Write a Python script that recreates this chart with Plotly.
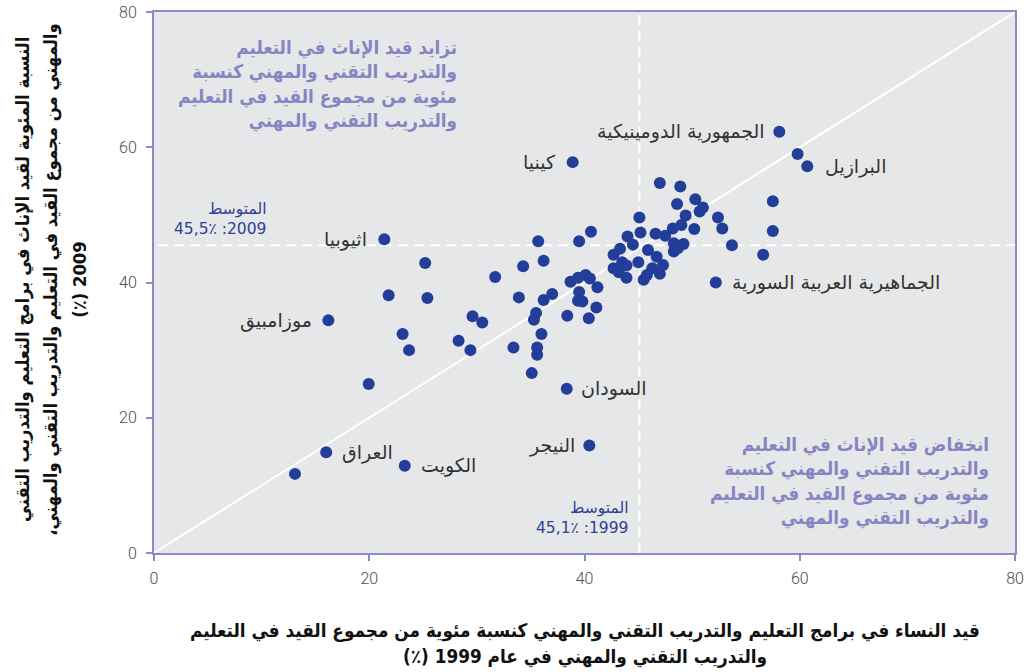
import plotly.graph_objects as go

# ---------------- data ----------------
x1999 = [16.0, 23.3, 16.2, 21.4, 38.9, 38.35, 40.45, 58.1, 60.7, 52.2,
         13.1, 59.8, 19.95, 21.8, 23.1, 23.7, 25.2, 25.4, 28.3, 29.4,
         29.6, 30.5, 31.7, 33.4, 33.9, 34.3, 35.1, 35.3, 35.5, 35.6,
         35.6, 35.7, 36.0, 36.2, 36.2, 37.0, 38.4, 38.7, 39.4, 39.5,
         39.5, 39.4, 39.8, 40.1, 40.5, 40.4, 40.6, 41.1, 41.2, 42.7,
         42.7, 43.2, 43.3, 43.5, 43.9, 43.9, 44.0, 44.5, 45.0, 45.1,
         45.2, 45.5, 45.8, 45.9, 46.3, 46.6, 46.7, 47.0, 47.0, 47.3,
         47.5, 48.2, 48.3, 48.3, 48.7, 48.6, 48.9, 49.0, 49.2, 49.4,
         50.2, 50.3, 50.7, 51.0, 52.4, 52.8, 53.7, 56.6, 57.5, 57.5]
y2009 = [14.9, 12.9, 34.4, 46.4, 57.8, 24.3, 15.9, 62.3, 57.2, 40.0,
         11.7, 59.0, 25.0, 38.1, 32.4, 30.0, 42.9, 37.7, 31.4, 30.0,
         35.0, 34.1, 40.8, 30.4, 37.8, 42.4, 26.6, 34.5, 35.5, 30.4,
         29.3, 46.1, 32.4, 37.4, 43.2, 38.3, 35.1, 40.1, 40.7, 46.1,
         38.6, 37.3, 37.2, 41.1, 40.6, 34.7, 47.5, 36.3, 39.3, 44.1,
         42.1, 41.5, 45.0, 43.0, 42.5, 40.7, 46.8, 45.6, 43.0, 49.6,
         47.4, 40.4, 41.1, 44.8, 42.1, 47.2, 43.8, 41.3, 54.7, 42.6,
         46.9, 48.0, 45.8, 44.6, 45.1, 51.6, 54.2, 48.5, 45.7, 49.9,
         47.9, 52.3, 50.5, 51.1, 49.6, 48.0, 45.5, 44.1, 52.0, 47.6]
names = ["العراق", "الكويت", "موزامبيق", "اثيوبيا", "كينيا", "السودان",
         "النيجر", "الجمهورية الدومينيكية", "البرازيل",
         "الجماهيرية العربية السورية"]

mean_1999 = 45.1
mean_2009 = 45.5
axis_range = [0, 80]
tick_vals = [0, 20, 40, 60, 80]

RLE, PDF = "\u202b", "\u202c"
def rtl(s):
    return RLE + s + PDF

mean_label_1999 = ["المتوسط", "1999: 45,1٪"]
mean_label_2009 = ["المتوسط", "2009: 45,5٪"]
quad_up = ["تزايد قيد الإناث في التعليم", "والتدريب التقني والمهني كنسبة",
           "مئوية من مجموع القيد في التعليم", "والتدريب التقني والمهني"]
quad_down = ["انخفاض قيد الإناث في التعليم", "والتدريب التقني والمهني كنسبة",
             "مئوية من مجموع القيد في التعليم", "والتدريب التقني والمهني"]
x_title = ["قيد النساء في برامج التعليم والتدريب التقني والمهني كنسبة مئوية من مجموع القيد في التعليم",
           "والتدريب التقني والمهني في عام 1999 (٪)"]
y_title = ["النسبة المئوية لقيد الإناث في برامج التعليم والتدريب التقني",
           "والمهني من مجموع القيد في التعليم والتدريب التقني والمهني،",
           "2009 (٪)"]

# ---------------- styles ----------------
BLUE = "#233e98"
PURPLE = "#8784c4"
AXIS = "#8b8bc8"
AR_FONT = "DejaVu Sans"
AR_COND = "DejaVu Sans Condensed"

# label placement (side, xshift)
label_pos = {
    "العراق": ("left", 14), "الكويت": ("left", 14), "موزامبيق": ("right", -14),
    "اثيوبيا": ("right", -15), "كينيا": ("right", -15), "السودان": ("left", 12),
    "النيجر": ("right", -12), "الجمهورية الدومينيكية": ("right", -12),
    "البرازيل": ("left", 16), "الجماهيرية العربية السورية": ("left", 14),
}

fig = go.Figure()
fig.add_trace(go.Scatter(
    x=x1999, y=y2009, mode="markers",
    marker=dict(size=12, color=BLUE, line=dict(width=0)),
    hoverinfo="skip", showlegend=False,
))

shapes = [
    dict(type="line", xref="x", yref="y", x0=axis_range[0], y0=axis_range[0],
         x1=axis_range[1], y1=axis_range[1], line=dict(color="white", width=2), layer="below"),
    dict(type="line", xref="x", yref="y", x0=mean_1999, x1=mean_1999,
         y0=axis_range[0], y1=axis_range[1],
         line=dict(color="white", width=2, dash="10px,6px"), layer="below"),
    dict(type="line", xref="x", yref="y", x0=axis_range[0] + 0.4, x1=axis_range[1],
         y0=mean_2009, y1=mean_2009,
         line=dict(color="white", width=2, dash="10px,6px"), layer="below"),
]

ann = []
for i, nm in enumerate(names):
    side, xs = label_pos[nm]
    ann.append(dict(x=x1999[i], y=y2009[i], xref="x", yref="y", text=rtl(nm),
                    showarrow=False, xanchor=side, yanchor="middle", xshift=xs,
                    font=dict(family=AR_FONT, size=19, color="#333333")))

# mean labels
ann.append(dict(x=10.6, y=mean_2009, xref="x", yref="y",
                text="<br>".join(rtl(s) for s in mean_label_2009),
                showarrow=False, xanchor="right", yanchor="bottom", yshift=5, align="right",
                font=dict(family=AR_FONT, size=15.5, color="#2d4196")))
ann.append(dict(x=mean_1999, y=axis_range[0], xref="x", yref="y",
                text="<br>".join(rtl(s) for s in mean_label_1999),
                showarrow=False, xanchor="right", yanchor="bottom", xshift=-9, yshift=14, align="right",
                font=dict(family=AR_FONT, size=15.5, color="#2d4196")))

# quadrant texts
ann.append(dict(x=28.3, y=76.6, xref="x", yref="y",
                text="<br>".join(rtl(s) for s in quad_up),
                showarrow=False, xanchor="right", yanchor="top", align="right",
                font=dict(family=AR_COND, size=18.7, color=PURPLE, weight="bold")))
ann.append(dict(x=77.8, y=17.9, xref="x", yref="y",
                text="<br>".join(rtl(s) for s in quad_down),
                showarrow=False, xanchor="right", yanchor="top", align="right",
                font=dict(family=AR_COND, size=18.7, color=PURPLE, weight="bold")))

# axis titles (one annotation per line)
for s, yp in zip(x_title, [-0.144, -0.192]):
    ann.append(dict(x=0.5, y=yp, xref="paper", yref="paper", text=rtl(s),
                    showarrow=False, xanchor="center", yanchor="middle",
                    font=dict(family=AR_COND, size=18.8, color="#111111", weight="bold")))
for s, xp in zip(y_title, [-0.152, -0.1196, -0.0859]):
    ann.append(dict(x=xp, y=0.505, xref="paper", yref="paper", text=rtl(s),
                    showarrow=False, xanchor="center", yanchor="middle", textangle=-90,
                    font=dict(family=AR_COND, size=18.3, color="#111111", weight="bold")))

axis_common = dict(
    range=axis_range, tickvals=tick_vals, showgrid=False, zeroline=False,
    showline=True, linecolor=AXIS, linewidth=2, mirror=True,
    ticks="outside", ticklen=6, tickwidth=2, tickcolor=AXIS, automargin=False,
    ticklabeloverflow="allow",
    tickfont=dict(family="Roboto", size=16, color="#4d4d4d", weight=300),
)

fig.update_layout(
    width=1028, height=672,
    margin=dict(l=154, r=13, t=12, b=119),
    plot_bgcolor="#e6e7e8", paper_bgcolor="white",
    hovermode=False,
    xaxis=dict(**axis_common, ticklabelstandoff=4),
    yaxis=dict(**axis_common, ticklabelstandoff=6),
    shapes=shapes, annotations=ann,
)

fig.write_html("out.html", config={"displayModeBar": False},
               post_script="document.body.style.margin='0px';document.body.style.overflow='hidden';")
